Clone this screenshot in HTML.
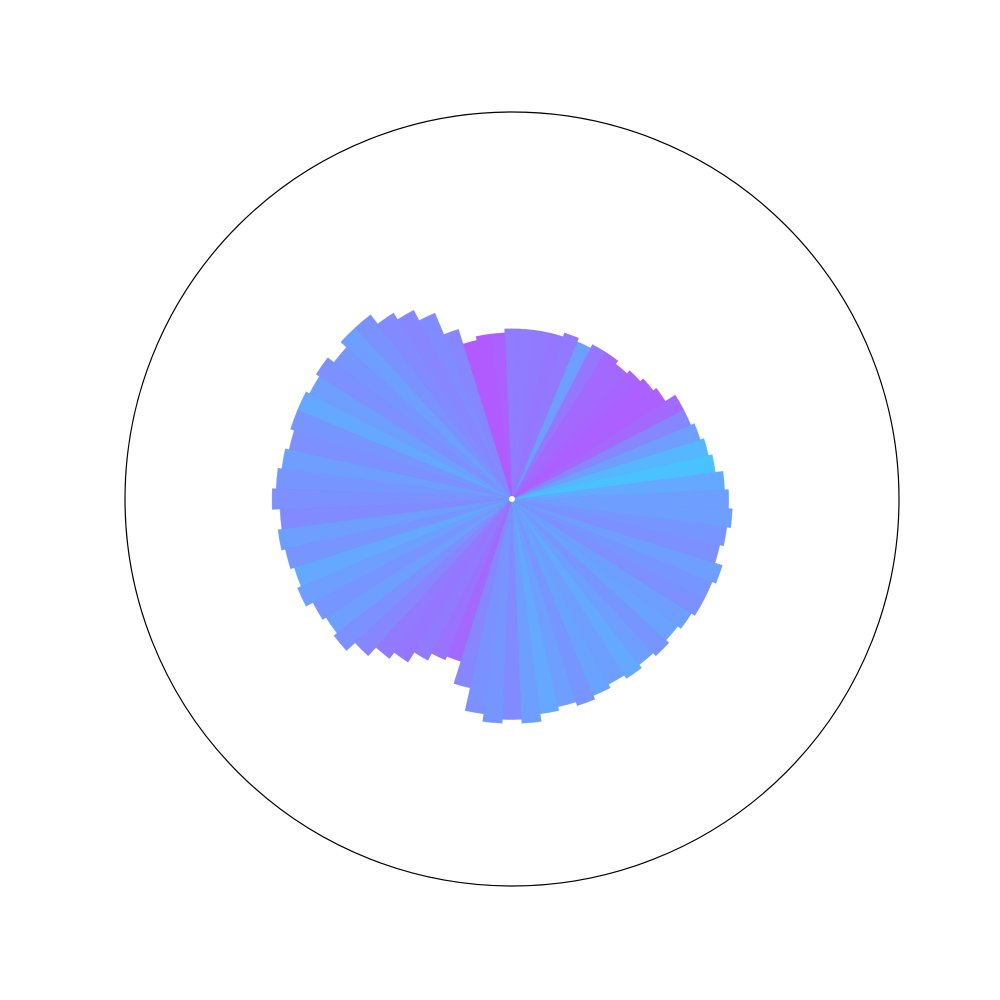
<!DOCTYPE html>
<html><head><meta charset="utf-8"><style>
html,body{margin:0;padding:0;background:#fff;width:1000px;height:1000px;overflow:hidden}
svg{display:block}
</style></head><body>
<svg id="chart" width="1000" height="1000">
<circle cx="512" cy="499" r="387" fill="none" stroke="#000" stroke-width="1.2"/>
<g id="bars"></g>
<circle cx="512" cy="499" r="3" fill="#fff"/>
</svg>
<script>
// angle in degrees (counterclockwise from east), bar length as fraction of outer radius, colour position on "cool" map
const angles = [0,5,10,15,20,25,30,35,40,45,50,55,60,65,70,75,80,85,90,95,100,105,110,115,120,125,130,135,140,145,150,155,160,165,170,175,180,185,190,195,200,205,210,215,220,225,230,235,240,245,250,255,260,265,270,275,280,285,290,295,300,305,310,315,320,325,330,335,340,345,350,355];
const radii = [0.56,0.55,0.53,0.52,0.51,0.5,0.5,0.47,0.46,0.45,0.44,0.45,0.45,0.44,0.45,0.44,0.44,0.44,0.44,0.43,0.43,0.42,0.46,0.52,0.55,0.57,0.6,0.6,0.58,0.6,0.59,0.6,0.6,0.59,0.6,0.61,0.62,0.6,0.61,0.6,0.59,0.6,0.58,0.57,0.58,0.55,0.52,0.5,0.47,0.45,0.44,0.5,0.56,0.58,0.57,0.58,0.56,0.55,0.56,0.55,0.54,0.55,0.54,0.55,0.54,0.55,0.56,0.56,0.57,0.55,0.56,0.57];
const colorT = [0.4,0.36,0.25,0.3,0.4,0.5,0.62,0.66,0.66,0.64,0.62,0.62,0.56,0.4,0.55,0.56,0.55,0.54,0.54,0.66,0.68,0.68,0.5,0.48,0.5,0.48,0.45,0.4,0.44,0.46,0.4,0.36,0.44,0.46,0.4,0.44,0.46,0.48,0.4,0.44,0.36,0.4,0.44,0.4,0.46,0.5,0.55,0.56,0.55,0.58,0.62,0.5,0.45,0.44,0.48,0.4,0.36,0.4,0.44,0.38,0.4,0.36,0.4,0.44,0.38,0.4,0.46,0.44,0.4,0.46,0.44,0.4];
const CX=512, CY=499, R=387, WIDTH=5;
function rScale(v){return v*R;}
function pt(aDeg,r){const a=aDeg*Math.PI/180;return [CX+r*Math.cos(a), CY-r*Math.sin(a)];}
function cool(t){return 'rgb('+Math.round(255*t)+','+Math.round(255*(1-t))+',255)';}
const g=document.getElementById('bars');
angles.forEach((a,i)=>{
  const r=rScale(radii[i]);
  const p1=pt(a-WIDTH/2,r), p2=pt(a+WIDTH/2,r);
  const p=document.createElementNS('http://www.w3.org/2000/svg','path');
  p.setAttribute('d','M'+CX+','+CY+' L'+p1[0].toFixed(2)+','+p1[1].toFixed(2)+' A'+r.toFixed(2)+','+r.toFixed(2)+' 0 0 0 '+p2[0].toFixed(2)+','+p2[1].toFixed(2)+' Z');
  p.setAttribute('fill',cool(colorT[i]));
  p.setAttribute('fill-opacity','0.95');
  p.setAttribute('stroke',cool(colorT[i]));
  p.setAttribute('stroke-opacity','0.5');
  p.setAttribute('stroke-width','0.6');
  
  
  g.appendChild(p);
});
</script>
</body></html>
